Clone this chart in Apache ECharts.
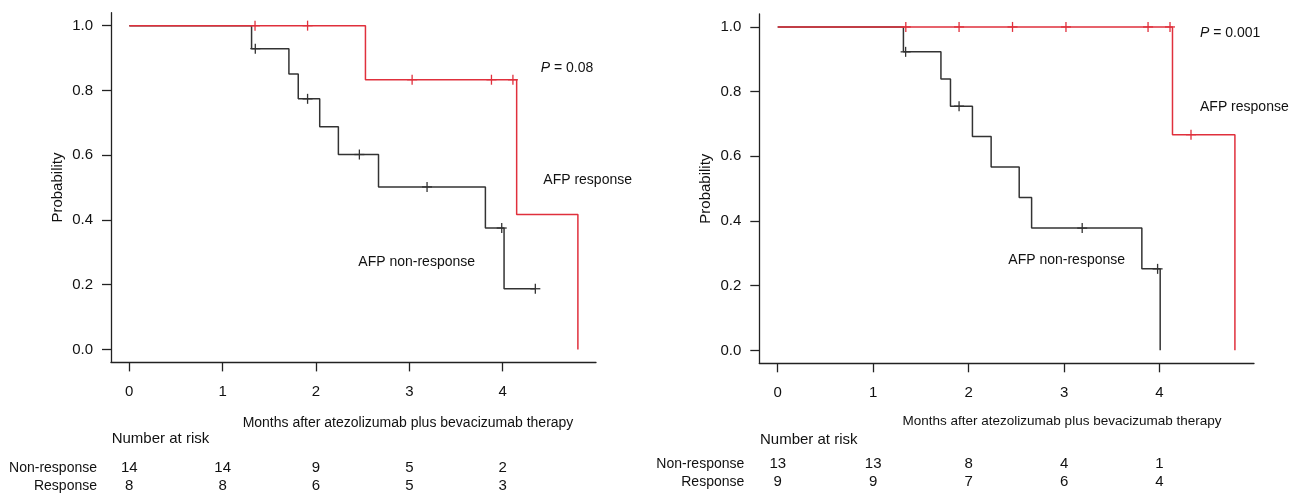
<!DOCTYPE html>
<html><head><meta charset="utf-8">
<script src="https://cdn.jsdelivr.net/npm/echarts@6/dist/echarts.min.js"></script>
<style>html,body{margin:0;padding:0;background:#fff;}#c{width:1298px;height:495px;}</style>
</head><body><div id="c"></div>
<script>
// ---- data: left panel ----
const L_nonresp_steps = [[0,1],[1.31,0.929],[1.71,0.851],[1.81,0.774],[2.04,0.688],[2.24,0.602],[2.67,0.502],[3.815,0.375],[4.015,0.1875],[4.35,0.1875]];
const L_nonresp_cens = [[1.35,0.929],[1.91,0.774],[2.465,0.602],[3.19,0.502],[3.99,0.375],[4.35,0.1875]];
const L_resp_steps = [[0,1],[2.53,0.833],[4.15,0.4167],[4.806,0]];
const L_resp_cens = [[1.347,1],[1.91,1],[3.03,0.833],[3.88,0.833],[4.11,0.833]];
// ---- data: right panel ----
const R_nonresp_steps = [[0,1],[1.317,0.923],[1.71,0.839],[1.81,0.755],[2.04,0.661],[2.236,0.567],[2.53,0.4725],[2.66,0.378],[3.815,0.252],[4.007,0]];
const R_nonresp_cens = [[1.34,0.923],[1.90,0.755],[3.19,0.378],[3.98,0.252]];
const R_resp_steps = [[0,1],[4.136,0.667],[4.79,0]];
const R_resp_cens = [[1.342,1],[1.90,1],[2.46,1],[3.02,1],[3.88,1],[4.11,1],[4.33,0.667]];
// ---- ticks & labels ----
const xTicks = [0,1,2,3,4];
const yTicks = [0,0.2,0.4,0.6,0.8,1.0];
const riskTimes = [0,1,2,3,4];
const L_riskNon = [14,14,9,5,2];
const L_riskResp = [8,8,6,5,3];
const R_riskNon = [13,13,8,4,1];
const R_riskResp = [9,9,7,6,4];
const pLeft = '0.08', pRight = '0.001';
const xTitle = 'Months after atezolizumab plus bevacizumab therapy';

const RED = '#e0303c', BLK = '#333333', AX = '#222222';
const FONT = 'Liberation Sans, Arial, Helvetica, sans-serif';

function mkX(i, min, max){
  return {type:'value', gridIndex:i, min:min, max:max,
    axisLine:{show:true, onZero:false, lineStyle:{color:AX, width:1.3}},
    axisTick:{show:true, customValues:xTicks, length:9, lineStyle:{color:AX, width:1.3}},
    axisLabel:{show:true, customValues:xTicks, margin:22, fontSize:15, color:'#111', fontFamily:FONT},
    splitLine:{show:false}};
}
function mkY(i){
  return {type:'value', gridIndex:i, min:-0.04, max:1.04,
    axisLine:{show:true, onZero:false, lineStyle:{color:AX, width:1.3}},
    axisTick:{show:true, customValues:yTicks, length:9, lineStyle:{color:AX, width:1.3}},
    axisLabel:{show:true, customValues:yTicks, margin:18, fontSize:15, color:'#111', fontFamily:FONT,
      formatter:v=>v.toFixed(1)},
    name:'Probability', nameLocation:'middle', nameGap:46, nameRotate:90,
    nameTextStyle:{fontSize:15, color:'#111', fontFamily:FONT},
    splitLine:{show:false}};
}
function stepSeries(i, data, color, z){
  return {type:'line', xAxisIndex:i, yAxisIndex:i, data:data, step:'end', symbol:'none',
    lineStyle:{color:color, width:1.5}, z:z, animation:false, silent:true};
}
function censSeries(i, data, color, z){
  return {type:'custom', xAxisIndex:i, yAxisIndex:i, data:data, z:z, animation:false, silent:true,
    renderItem:function(params, api){
      const p = api.coord([api.value(0), api.value(1)]);
      const s = {stroke:color, lineWidth:1.3};
      return {type:'group', children:[
        {type:'line', shape:{x1:p[0]-5, y1:p[1], x2:p[0]+5, y2:p[1]}, style:s},
        {type:'line', shape:{x1:p[0], y1:p[1]-5, x2:p[0], y2:p[1]+5}, style:s}
      ]};
    }};
}

const chart = echarts.init(document.getElementById('c'), null, {renderer:'canvas'});
chart.setOption({
  backgroundColor:'#fff',
  animation:false,
  grid:[
    {left:111, top:12.7, width:485, height:349.7},
    {left:759.3, top:14, width:494.7, height:349.3}
  ],
  xAxis:[mkX(0,-0.196,5.0), mkX(1,-0.193,4.99)],
  yAxis:[mkY(0), mkY(1)],
  series:[
    stepSeries(0, L_nonresp_steps, BLK, 2),
    censSeries(0, L_nonresp_cens, BLK, 3),
    stepSeries(0, L_resp_steps, RED, 4),
    censSeries(0, L_resp_cens, RED, 5),
    stepSeries(1, R_nonresp_steps, BLK, 2),
    censSeries(1, R_nonresp_cens, BLK, 3),
    stepSeries(1, R_resp_steps, RED, 4),
    censSeries(1, R_resp_cens, RED, 5)
  ]
});

function txt(x, y, text, opts){
  return Object.assign({type:'text', x:x, y:y, silent:true,
    style:Object.assign({text:text, fontSize:14, fill:'#111', fontFamily:FONT, textVerticalAlign:'middle', textAlign:'left'}, (opts||{}).style||{})},
    (opts||{}).el||{});
}
function pText(x, y, val, fs){
  return {type:'text', x:x, y:y, silent:true, style:{
    text:'{i|P} = '+val, fontSize:fs, fill:'#111', fontFamily:FONT, textVerticalAlign:'middle', textAlign:'left',
    rich:{i:{fontStyle:'italic', fontSize:fs, fontFamily:FONT, fill:'#111'}}}};
}

const g = [];
// left annotations
g.push(pText(540.7, 68.3, pLeft, 14));
g.push(txt(543.3, 180.3, 'AFP response'));
g.push(txt(358.3, 262.3, 'AFP non-response'));
g.push(txt(408, 422.7, xTitle, {style:{textAlign:'center'}}));
g.push(txt(111.7, 439.3, 'Number at risk', {style:{fontSize:15}}));
g.push(txt(97, 467.7, 'Non-response', {style:{textAlign:'right'}}));
g.push(txt(97, 486, 'Response', {style:{textAlign:'right'}}));
// right annotations
g.push(pText(1200, 33.3, pRight, 14));
g.push(txt(1200, 107.3, 'AFP response'));
g.push(txt(1008.3, 260, 'AFP non-response'));
g.push(txt(1062, 421.7, xTitle, {style:{textAlign:'center', fontSize:13.5}}));
g.push(txt(760, 440, 'Number at risk', {style:{fontSize:15}}));
g.push(txt(744.3, 464.3, 'Non-response', {style:{textAlign:'right'}}));
g.push(txt(744.3, 481.7, 'Response', {style:{textAlign:'right'}}));

// numbers at risk placed through axis scales
riskTimes.forEach(function(t, k){
  const xl = chart.convertToPixel({gridIndex:0}, [t, 0])[0];
  const xr = chart.convertToPixel({gridIndex:1}, [t, 0])[0];
  g.push(txt(xl, 467.7, String(L_riskNon[k]), {style:{textAlign:'center', fontSize:15}}));
  g.push(txt(xl, 486, String(L_riskResp[k]), {style:{textAlign:'center', fontSize:15}}));
  g.push(txt(xr, 464.3, String(R_riskNon[k]), {style:{textAlign:'center', fontSize:15}}));
  g.push(txt(xr, 481.7, String(R_riskResp[k]), {style:{textAlign:'center', fontSize:15}}));
});
chart.setOption({graphic:{elements:g}});
</script></body></html>
